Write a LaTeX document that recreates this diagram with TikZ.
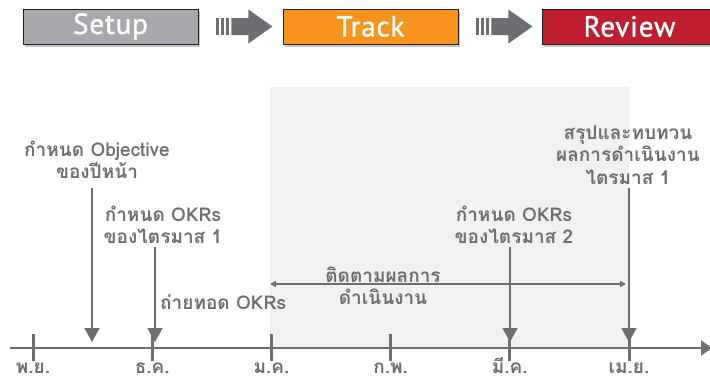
\documentclass[tikz,border=0pt]{standalone}
\usepackage{fontspec}
\setmainfont{PT Sans}
\newfontfamily\phasefont{PT Sans}[FakeBold=1.3,LetterSpace=3]
\newfontfamily\thaifont[Script=Thai]{Loma}
\usetikzlibrary{arrows.meta,shadows,calc}
\definecolor{labelgray}{HTML}{6D6E71}
\definecolor{axisgray}{HTML}{6D6E71}
\definecolor{trackbg}{HTML}{F1F1F1}
\definecolor{setupfill}{HTML}{A7A9AC}
\definecolor{trackfill}{HTML}{F7941D}
\definecolor{reviewfill}{HTML}{BE1E2D}
\definecolor{edgedark}{HTML}{231F20}

\tikzset{
  phase/.style={draw=edgedark, line width=0.8pt, minimum width=175pt, minimum height=35pt,
    inner sep=0pt, text=white, font=\phasefont\fontsize{29}{29}\selectfont,
    drop shadow={shadow xshift=2pt, shadow yshift=-3pt, opacity=0.45}},
  evlabel/.style={text=labelgray, align=center, inner sep=0pt,
    font=\thaifont\bfseries\fontsize{19}{22.5}\selectfont},
  month/.style={evlabel, anchor=base},
  evarrow/.style={draw=axisgray, line width=1.4pt, -{Triangle[width=15pt,length=14pt]}},
  trkarrow/.style={draw=axisgray, line width=1.3pt, {Triangle[width=6pt,length=6pt]}-{Triangle[width=6pt,length=6pt]}},
  axisline/.style={draw=axisgray, line width=2.2pt, -{Triangle[width=15pt,length=11pt]}},
  tickmark/.style={draw=axisgray, line width=3pt}
}

\begin{document}
\begin{tikzpicture}[x=1pt,y=-1pt]
\useasboundingbox (0,0) rectangle (710,380);
\fill[trackbg] (270,87) rectangle (629,348);

\node[phase, fill=setupfill] (setup) at (110.5,26.5) {Setup};
\node[phase, fill=trackfill] (track) at (370.5,26.5) {Track};
\node[phase, fill=reviewfill] (review) at (629.5,26.5) {Review};
\foreach \a/\b in {setup/track,track/review}{
  \foreach \k in {18,23,28}
    \fill[axisgray] ($(\a.east)+(\k,-8.5)$) rectangle ++(3,17);
  \fill[axisgray] ($(\a.east)+(33,-8.5)$) -- ++(17,0) -- ++(0,-8.5) -- ++(24,17)
    -- ++(-24,17) -- ++(0,-8.5) -- ++(-17,0) -- cycle;
}

\node[evlabel] (obj) at (97,160) {กำหนด Objective\\ของปีหน้า};
\node[evlabel] (qa) at (163,225) {กำหนด OKRs\\ของไตรมาส 1};
\node[evlabel, anchor=west] (cascade) at (160,302) {ถ่ายทอด OKRs};
\node[evlabel] (qb) at (514,225) {กำหนด OKRs\\ของไตรมาส 2};
\node[evlabel] (rev) at (628,155) {สรุปและทบทวน\\ผลการดำเนินงาน\\ไตรมาส 1};
\node[evlabel] (trk) at (383,286) {ติดตามผลการ\\ดำเนินงาน};

\coordinate (trk-l) at (270,284);
\coordinate (trk-r) at (626,284);
\draw[trkarrow] (trk-l) -- (trk-r);

\foreach \n/\x/\y in {obj/92/188, qa/155/247, qb/510/247, rev/629/188}{
  \coordinate (\n-top) at (\x,\y);
  \coordinate (\n-tip) at (\x,342);
  \draw[evarrow] (\n-top) -- (\n-tip);
}

\coordinate (ax-l) at (10,348);
\coordinate (ax-r) at (712,348);
\draw[axisline] (ax-l) -- (ax-r);
\foreach \x/\m [count=\i] in {33/พ.ย., 152.2/ธ.ค., 271.4/ม.ค., 390.6/ก.พ., 509.8/มี.ค., 629/เม.ย.}{
  \draw[tickmark] (\x,334) -- (\x,361);
  \node[month] (m\i) at (\x,373) {\m};
}
\end{tikzpicture}
\end{document}
